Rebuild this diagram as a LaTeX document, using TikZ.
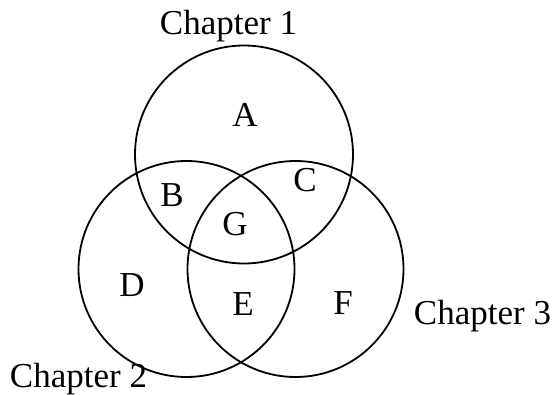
\documentclass[tikz,border=0pt]{standalone}
\usepackage{fontspec}
\setmainfont{Liberation Serif}
\begin{document}
\begin{tikzpicture}[x=1pt,y=-1pt,
  setc/.style={circle,draw=black,line width=1.8pt,inner sep=0pt,minimum size=#1},
  lbl/.style={inner sep=0pt,anchor=base,font=\fontsize{35}{40}\selectfont}]
\useasboundingbox (0,0) rectangle (557,395);
\node[setc=218pt] (c1) at (244,154.5) {};
\node[setc=216pt] (c2) at (186.5,269) {};
\node[setc=216pt] (c3) at (295.5,269) {};
\node[lbl] (t1) at (228.5,35) {Chapter 1};
\node[lbl] (t2) at (78.5,387) {Chapter 2};
\node[lbl] (t3) at (482.5,325) {Chapter 3};
\node[lbl] (A) at (245,127) {A};
\node[lbl] (B) at (172,207) {B};
\node[lbl] (C) at (305,192) {C};
\node[lbl] (G) at (235,236) {G};
\node[lbl] (D) at (132,297) {D};
\node[lbl] (E) at (243,316) {E};
\node[lbl] (F) at (343,315) {F};
\end{tikzpicture}
\end{document}
